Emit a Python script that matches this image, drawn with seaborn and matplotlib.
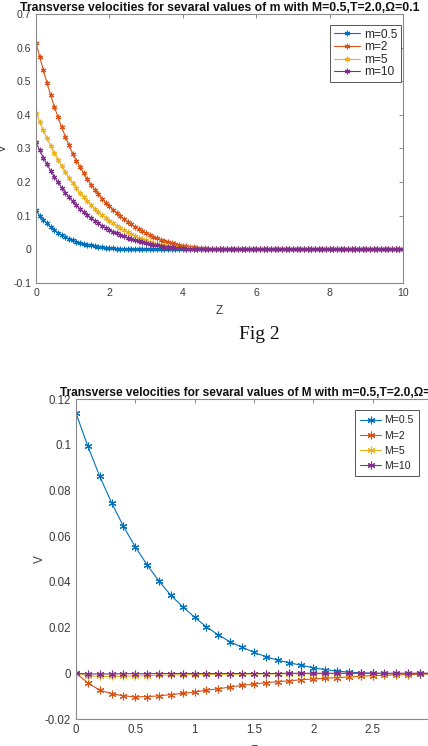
import numpy as np
import pandas as pd
import matplotlib
matplotlib.use("Agg")
import matplotlib.pyplot as plt
from matplotlib.ticker import FuncFormatter
import seaborn as sns

# ---------------- data: top panel (several m, M=0.5) ----------------
z_top = np.round(np.linspace(0, 10, 101), 1)

v_m05 = [0.116, 0.100, 0.088, 0.077, 0.066, 0.057, 0.049, 0.042, 0.036, 0.031,
         0.027, 0.023, 0.020, 0.017, 0.014, 0.012, 0.010, 0.008, 0.006, 0.005,
         0.004, 0.003, 0.002, 0.002, 0.001, 0.001,
         0, 0, 0, 0, 0, 0, 0, 0, 0, 0,
         0, 0, 0, 0, 0, 0, 0, 0, 0, 0,
         0, 0, 0, 0, 0, 0, 0, 0, 0, 0,
         0, 0, 0, 0, 0, 0, 0, 0, 0, 0,
         0, 0, 0, 0, 0, 0, 0, 0, 0, 0,
         0, 0, 0, 0, 0, 0, 0, 0, 0, 0,
         0, 0, 0, 0, 0, 0, 0, 0, 0, 0,
         0, 0, 0, 0, 0]

v_m2 = [0.615, 0.573, 0.533, 0.495, 0.459, 0.424, 0.393, 0.363, 0.335, 0.309,
        0.285, 0.264, 0.245, 0.226, 0.209, 0.192, 0.178, 0.164, 0.151, 0.139,
        0.128, 0.118, 0.108, 0.099, 0.090, 0.082, 0.074, 0.067, 0.060, 0.054,
        0.048, 0.043, 0.038, 0.033, 0.029, 0.025, 0.022, 0.019, 0.016, 0.013,
        0.011, 0.009, 0.008, 0.006, 0.005, 0.004, 0.003, 0.002, 0.002, 0.001,
        0.001,
        0, 0, 0, 0, 0, 0, 0, 0, 0, 0,
        0, 0, 0, 0, 0, 0, 0, 0, 0, 0,
        0, 0, 0, 0, 0, 0, 0, 0, 0, 0,
        0, 0, 0, 0, 0, 0, 0, 0, 0, 0,
        0, 0, 0, 0, 0, 0, 0, 0, 0, 0]

v_m5 = [0.407, 0.380, 0.354, 0.330, 0.308, 0.287, 0.267, 0.248, 0.230, 0.213,
        0.197, 0.182, 0.168, 0.155, 0.143, 0.132, 0.121, 0.111, 0.102, 0.093,
        0.085, 0.077, 0.070, 0.063, 0.057, 0.051, 0.045, 0.040, 0.035, 0.031,
        0.027, 0.023, 0.020, 0.017, 0.014, 0.012, 0.010, 0.008, 0.007, 0.005,
        0.004, 0.003, 0.003, 0.002, 0.001, 0.001, 0.001,
        0, 0, 0, 0, 0, 0, 0, 0, 0, 0,
        0, 0, 0, 0, 0, 0, 0, 0, 0, 0,
        0, 0, 0, 0, 0, 0, 0, 0, 0, 0,
        0, 0, 0, 0, 0, 0, 0, 0, 0, 0,
        0, 0, 0, 0, 0, 0, 0, 0, 0, 0,
        0, 0, 0, 0]

v_m10 = [0.318, 0.295, 0.273, 0.253, 0.234, 0.216, 0.199, 0.184, 0.169, 0.156,
         0.143, 0.131, 0.120, 0.110, 0.101, 0.092, 0.084, 0.077, 0.070, 0.064,
         0.058, 0.053, 0.048, 0.043, 0.039, 0.035, 0.031, 0.027, 0.024, 0.021,
         0.018, 0.016, 0.014, 0.012, 0.010, 0.008, 0.007, 0.006, 0.005, 0.004,
         0.003, 0.002, 0.002, 0.001, 0.001, 0.001,
         0, 0, 0, 0, 0, 0, 0, 0, 0, 0,
         0, 0, 0, 0, 0, 0, 0, 0, 0, 0,
         0, 0, 0, 0, 0, 0, 0, 0, 0, 0,
         0, 0, 0, 0, 0, 0, 0, 0, 0, 0,
         0, 0, 0, 0, 0, 0, 0, 0, 0, 0,
         0, 0, 0, 0, 0]

top_labels = ["m=0.5", "m=2", "m=5", "m=10"]
top_series = [v_m05, v_m2, v_m5, v_m10]

# ---------------- data: bottom panel (several M, m=0.5) ----------------
z_bot = np.round(np.linspace(0, 3, 31), 1)

v_M05 = [0.1138, 0.0993, 0.0862, 0.0746, 0.0643, 0.0553, 0.0474, 0.0403, 0.0341, 0.0291,
         0.0245, 0.0203, 0.0168, 0.0137, 0.0114, 0.0092, 0.0073, 0.0057, 0.0046, 0.0035,
         0.0024, 0.0016, 0.0010, 0.0005, 0.0002, 0.0000, -0.0001, -0.0001, -0.0001, -0.0001,
         -0.0001]
v_M2 = [0.0, -0.0042, -0.0074, -0.0089, -0.0099, -0.0103, -0.0102, -0.0099, -0.0093, -0.0088,
        -0.0082, -0.0074, -0.0068, -0.0060, -0.0053, -0.0047, -0.0041, -0.0037, -0.0033, -0.0028,
        -0.0025, -0.0022, -0.0019, -0.0016, -0.0013, -0.0010, -0.0009, -0.0007, -0.0006, -0.0004,
        -0.0003]
v_M5 = [0.0, -0.0010, -0.0014, -0.0014, -0.0013, -0.0012, -0.0010, -0.0009, -0.0008, -0.0007,
        -0.0006, -0.0005, -0.0005, -0.0004, -0.0004, -0.0003, -0.0003, -0.0003, -0.0002, -0.0002,
        -0.0002, -0.0002, -0.0001, -0.0001, -0.0001, -0.0001, -0.0001, -0.0001, -0.0001, 0.0,
        0.0]
v_M10 = [0.0, -0.0003, -0.0003, -0.0003, -0.0002, -0.0002, -0.0002, -0.0001, -0.0001, -0.0001,
         -0.0001, -0.0001, -0.0001, -0.0001, -0.0001, -0.0001, -0.0001, -0.0001, 0.0, 0.0,
         0.0, 0.0, 0.0, 0.0, 0.0, 0.0, 0.0, 0.0, 0.0, 0.0,
         0.0]

bot_labels = ["M=0.5", "M=2", "M=5", "M=10"]
bot_series = [v_M05, v_M2, v_M5, v_M10]

top_title = "Transverse velocities for sevaral values of m with M=0.5,T=2.0,\u03a9=0.1"
bot_title = "Transverse velocities for sevaral values of M with m=0.5,T=2.0,\u03a9=0.1"

top_xticks = [0, 2, 4, 6, 8, 10]
top_yticks = [-0.1, 0, 0.1, 0.2, 0.3, 0.4, 0.5, 0.6, 0.7]
bot_xticks = [0, 0.5, 1, 1.5, 2, 2.5, 3]
bot_yticks = [-0.02, 0, 0.02, 0.04, 0.06, 0.08, 0.1, 0.12]

# ---------------- style ----------------
sns.set_style("white")
plt.rcParams["font.family"] = ["Liberation Sans", "DejaVu Sans"]
plt.rcParams["axes.unicode_minus"] = False

colors = ["#0072BD", "#D95319", "#EDB120", "#7E2F8E"]
asterisk = (6, 2, 0)
spine_col = "#8a8a8a"
text_col = "#3a3a3a"

fig = plt.figure(figsize=(4.28, 7.46), dpi=100)
ax1 = fig.add_axes([36 / 428, 1 - 283 / 746, 367 / 428, 269 / 746])
ax2 = fig.add_axes([76 / 428, 1 - 719 / 746, 355.8 / 428, 320 / 746])

fmt = FuncFormatter(lambda v, p: f"{round(v, 6):g}")


def draw(ax, z, series, labels, ms, lw):
    for vals, lab, c in zip(series, labels, colors):
        df = pd.DataFrame({"Z": z, "V": vals})
        sns.lineplot(data=df, x="Z", y="V", ax=ax, color=c, label=lab,
                     marker=asterisk, markersize=ms, markeredgecolor=c,
                     markeredgewidth=0.8, linewidth=lw, errorbar=None, sort=False)


def style(ax, xt, yt, xl, yl, fs):
    ax.set_xlim(xl)
    ax.set_ylim(yl)
    ax.set_xticks(xt)
    ax.set_yticks(yt)
    ax.xaxis.set_major_formatter(fmt)
    ax.yaxis.set_major_formatter(fmt)
    for s in ax.spines.values():
        s.set_visible(True)
        s.set_color(spine_col)
        s.set_linewidth(0.8)
    ax.tick_params(direction="in", length=3, width=0.7, color=spine_col,
                   top=True, right=True, labelsize=fs, labelcolor=text_col, pad=3.5)


# top panel
draw(ax1, z_top, top_series, top_labels, 4.0, 0.8)
style(ax1, top_xticks, top_yticks, (0, 10), (-0.1, 0.7), 7.6)
ax1.set_title(top_title, fontsize=8.85, fontweight="bold", pad=2.5, color="#111111")
ax1.set_xlabel("Z", fontsize=8.5, color=text_col)
ax1.set_ylabel("V", fontsize=8.5, color=text_col)
ax1.xaxis.set_label_coords(0.5, -0.08)
ax1.yaxis.set_label_coords(-0.074, 0.5)
ax1.legend(loc="upper right", bbox_to_anchor=(401 / 428, 1 - 25 / 746),
           bbox_transform=fig.transFigure, borderaxespad=0, fontsize=8.6,
           frameon=True, fancybox=False, framealpha=1, edgecolor="#555555",
           handlelength=2.2, handletextpad=0.35, labelspacing=0.05, borderpad=0.3,
           numpoints=1).get_frame().set_linewidth(0.7)

# bottom panel
draw(ax2, z_bot, bot_series, bot_labels, 5.5, 0.8)
style(ax2, bot_xticks, bot_yticks, (0, 3), (-0.02, 0.12), 8.3)
ax2.set_title(bot_title, fontsize=8.6, fontweight="bold", pad=2.5, color="#111111")
ax2.set_xlabel("Z", fontsize=8.5, color=text_col)
ax2.set_ylabel("V", fontsize=8.5, color=text_col)
ax2.xaxis.set_label_coords(0.5, -0.08)
ax2.yaxis.set_label_coords(-0.085, 0.5)
ax2.legend(loc="upper right", bbox_to_anchor=(418.7 / 428, 1 - 410 / 746),
           bbox_transform=fig.transFigure, borderaxespad=0, fontsize=7.6,
           frameon=True, fancybox=False, framealpha=1, edgecolor="#555555",
           handlelength=2.0, handletextpad=0.25, labelspacing=0.5, borderpad=0.5,
           numpoints=1).get_frame().set_linewidth(0.7)

fig.text(259 / 428, 1 - 334 / 746, "Fig 2", family=["Liberation Serif", "DejaVu Serif"],
         fontsize=14, ha="center", va="center", color="#111111")

fig.savefig("out.png", dpi=100)
